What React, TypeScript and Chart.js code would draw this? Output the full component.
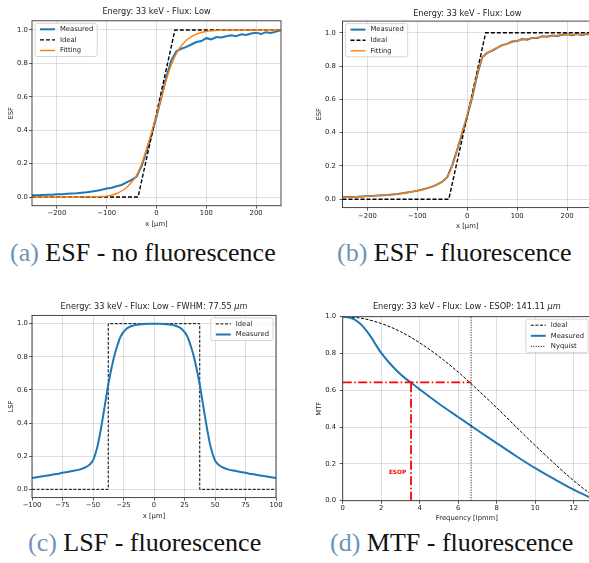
import React, { useEffect, useRef } from "react";
import { Chart, registerables } from "chart.js";
Chart.register(...registerables);

const FONT = '"DejaVu Sans", sans-serif';
const TEXT = "#222222";
const SPINE = "#333333";
const GRID = "rgba(0,0,0,0.16)";
const BLUE = "#1f77b4";
const ORANGE = "#ff7f0e";
const RED = "#ff0000";

// ---------------- ESF data (panels a, b) ----------------
const esfX = [
  -250, -240, -230, -220, -210, -200, -190, -180, -170, -160, -150, -140, -130, -120, -110,
  -100, -90, -80, -70, -60, -50, -40, -30, -20, -10, 0, 10, 20, 30, 40, 50, 60, 70, 80, 90,
  100, 110, 120, 130, 140, 150, 160, 170, 180, 190, 200, 210, 220, 230, 240, 250,
];
const esfMeasuredA = [
  0.010, 0.011, 0.012, 0.013, 0.014, 0.016, 0.017, 0.019, 0.021, 0.023, 0.026, 0.029, 0.033, 0.038, 0.044,
  0.051, 0.056, 0.064, 0.072, 0.087, 0.103, 0.122, 0.185, 0.275, 0.375, 0.48, 0.60, 0.72, 0.82, 0.872, 0.888, 0.899, 0.913, 0.928, 0.934,
  0.951, 0.944, 0.958, 0.955, 0.963, 0.968, 0.962, 0.974, 0.970, 0.979, 0.984, 0.976, 0.987, 0.982, 0.990, 0.998,
];
const esfFitA = [
  0, 0, 0, 0, 0, 0, 0, 0, 0, 0, 0.001, 0.001, 0.001, 0.002, 0.003,
  0.005, 0.011, 0.021, 0.036, 0.057, 0.088, 0.13, 0.198, 0.288, 0.385, 0.49, 0.598, 0.705, 0.793, 0.86, 0.906, 0.939, 0.96, 0.975, 0.985,
  0.991, 0.995, 0.997, 0.999, 1, 1, 1, 1, 1, 1, 1, 1, 1, 1, 1, 1,
];
const esfMeasuredB = [
  0.012, 0.013, 0.014, 0.015, 0.017, 0.019, 0.020, 0.022, 0.024, 0.026, 0.029, 0.032, 0.036, 0.041, 0.046,
  0.052, 0.059, 0.067, 0.076, 0.090, 0.106, 0.133, 0.205, 0.298, 0.40, 0.50, 0.612, 0.748, 0.853, 0.879, 0.893, 0.909, 0.926, 0.933, 0.947,
  0.950, 0.962, 0.958, 0.969, 0.968, 0.979, 0.976, 0.984, 0.981, 0.988, 0.991, 0.985, 0.993, 0.986, 0.992, 0.990,
];
const esfFitB = [
  0.011, 0.012, 0.013, 0.015, 0.016, 0.018, 0.020, 0.022, 0.024, 0.026, 0.028, 0.032, 0.036, 0.040, 0.045,
  0.050, 0.057, 0.066, 0.076, 0.089, 0.106, 0.135, 0.20, 0.30, 0.405, 0.505, 0.62, 0.75, 0.85, 0.878, 0.895, 0.91, 0.923, 0.934, 0.944,
  0.952, 0.958, 0.963, 0.968, 0.972, 0.976, 0.979, 0.982, 0.984, 0.986, 0.988, 0.989, 0.990, 0.991, 0.992, 0.993,
];
const esfIdealX = [-250, -37, 37, 250];
const esfIdealY = [0, 0, 1, 1];

// ---------------- LSF data (panel c) ----------------
const lsfX = [
  -100, -90, -80, -75, -70, -65, -60, -57, -54, -52, -50, -48, -46, -44, -42, -40, -38, -36, -34, -32, -30,
  -28, -26, -24, -22, -20, -17, -14, -10, -5, 0,
  5, 10, 14, 17, 20, 22, 24, 26, 28, 30, 32, 34, 36, 38, 40, 42, 44, 46, 48, 50, 52, 54, 57, 60, 65, 70, 75, 80, 90, 100,
];
const lsfMeasured = [
  0.068, 0.08, 0.092, 0.1, 0.106, 0.113, 0.122, 0.13, 0.142, 0.155, 0.175, 0.215, 0.27, 0.345, 0.43, 0.52, 0.61, 0.69, 0.76, 0.82, 0.868,
  0.912, 0.94, 0.958, 0.972, 0.981, 0.989, 0.994, 0.997, 0.999, 1.0,
  0.999, 0.997, 0.994, 0.989, 0.981, 0.972, 0.958, 0.94, 0.912, 0.868, 0.82, 0.76, 0.69, 0.61, 0.52, 0.43, 0.345, 0.27, 0.215, 0.175, 0.155, 0.142, 0.13, 0.122, 0.113, 0.106, 0.1, 0.092, 0.08, 0.068,
];
const lsfIdealX = [-100, -37.5, -37.5, 37.5, 37.5, 100];
const lsfIdealY = [0, 0, 1, 1, 0, 0];

// ---------------- MTF data (panel d) ----------------
const mtfMeasX = [0, 0.25, 0.5, 0.75, 1, 1.25, 1.5, 1.75, 2, 2.5, 3, 3.5, 4, 5, 6, 7, 8, 9, 10, 11, 12, 13];
const mtfMeasured = [1.0, 0.997, 0.99, 0.975, 0.953, 0.922, 0.885, 0.843, 0.803, 0.74, 0.687, 0.645, 0.605, 0.527, 0.455, 0.383, 0.313, 0.243, 0.177, 0.117, 0.06, 0.01];
const mtfIdealX = [0, 1, 2, 3, 4, 5, 6, 7, 8, 9, 10, 11, 12, 13, 13.33];
const mtfIdeal = [1.0, 0.991, 0.963, 0.919, 0.858, 0.784, 0.699, 0.604, 0.505, 0.402, 0.3, 0.202, 0.109, 0.026, 0.0];
const nyquistFreq = 6.67;
const esopFreq = 3.55;
const esopMtf = 0.643;
const esopLabelFreq = 2.85;
const esopLabelMtf = 0.155;

// ---------------- ticks ----------------
const esfXTicks = [-200, -100, 0, 100, 200];
const lsfXTicks = [-100, -75, -50, -25, 0, 25, 50, 75, 100];
const mtfXTicks = [0, 2, 4, 6, 8, 10, 12];
const unitYTicks = [0, 0.2, 0.4, 0.6, 0.8, 1.0];

const pts = (xs: number[], ys: number[]) => xs.map((x, i) => ({ x, y: ys[i] }));
const minusFmt = (v: number) => (v < 0 ? "\u2212" + Math.abs(v) : String(v));
const decFmt = (v: number) => Number(v).toFixed(1);

type LegendItem = { label: string; color: string; width: number; dash?: number[] };
type TitlePart = { text: string; italic?: boolean };
type Spec = {
  id: string;
  W: number; H: number; padTop: number; padRight: number;
  yWidth: number; xHeight: number;
  xMin: number; xMax: number; xTicks: number[]; xFmt: (v: number) => string; xTitle: string; xTitlePad: number; xTickPad: number;
  yMin: number; yMax: number; yTicks: number[]; yTitle: string; yTitlePad: number; yTickPad: number;
  title: TitlePart[]; titleY: number;
  legendCorner: "ul" | "ur"; legendItems: LegendItem[];
  datasets: any[];
  annotate?: (chart: any) => void;
};

function drawLegend(ctx: CanvasRenderingContext2D, a: any, corner: string, items: LegendItem[]) {
  const fs = 6.8;
  ctx.font = `${fs}px ${FONT}`;
  const tw = Math.max(...items.map((i) => ctx.measureText(i.label).width));
  const w = 25 + tw + 4;
  const row = 10.6;
  const h = 12 + (items.length - 1) * row;
  const x = corner === "ul" ? a.left + 3 : a.right - 3 - w;
  const y = a.top + 2.5;
  const r = 2;
  ctx.beginPath();
  ctx.moveTo(x + r, y);
  ctx.lineTo(x + w - r, y);
  ctx.quadraticCurveTo(x + w, y, x + w, y + r);
  ctx.lineTo(x + w, y + h - r);
  ctx.quadraticCurveTo(x + w, y + h, x + w - r, y + h);
  ctx.lineTo(x + r, y + h);
  ctx.quadraticCurveTo(x, y + h, x, y + h - r);
  ctx.lineTo(x, y + r);
  ctx.quadraticCurveTo(x, y, x + r, y);
  ctx.closePath();
  ctx.fillStyle = "rgba(255,255,255,0.8)";
  ctx.fill();
  ctx.setLineDash([]);
  ctx.strokeStyle = "#cccccc";
  ctx.lineWidth = 0.8;
  ctx.stroke();
  items.forEach((it, i) => {
    const cy = y + 6 + i * row;
    ctx.beginPath();
    ctx.setLineDash(it.dash || []);
    ctx.strokeStyle = it.color;
    ctx.lineWidth = it.width;
    ctx.moveTo(x + 5, cy);
    ctx.lineTo(x + 20, cy);
    ctx.stroke();
    ctx.setLineDash([]);
    ctx.fillStyle = TEXT;
    ctx.textAlign = "left";
    ctx.textBaseline = "middle";
    ctx.font = `${fs}px ${FONT}`;
    ctx.fillText(it.label, x + 25, cy);
  });
}

function drawTitle(ctx: CanvasRenderingContext2D, a: any, parts: TitlePart[], y: number) {
  const size = 8.2;
  const fontOf = (p: TitlePart) => `${p.italic ? "italic " : ""}${size}px ${FONT}`;
  let total = 0;
  const widths = parts.map((p) => {
    ctx.font = fontOf(p);
    const w = ctx.measureText(p.text).width;
    total += w;
    return w;
  });
  let x = (a.left + a.right) / 2 - total / 2;
  ctx.fillStyle = TEXT;
  ctx.textBaseline = "middle";
  ctx.textAlign = "left";
  parts.forEach((p, i) => {
    ctx.font = fontOf(p);
    ctx.fillText(p.text, x, y);
    x += widths[i];
  });
}

function makeDecor(spec: Spec) {
  return {
    id: "decor_" + spec.id,
    afterDatasetsDraw(chart: any) {
      if (spec.annotate) spec.annotate(chart);
    },
    afterDraw(chart: any) {
      const { ctx, chartArea: a } = chart;
      ctx.save();
      ctx.setLineDash([]);
      ctx.strokeStyle = SPINE;
      ctx.lineWidth = 0.9;
      ctx.strokeRect(a.left, a.top, a.right - a.left, a.bottom - a.top);
      drawLegend(ctx, a, spec.legendCorner, spec.legendItems);
      drawTitle(ctx, a, spec.title, spec.titleY);
      ctx.restore();
    },
  };
}

function makeConfig(spec: Spec): any {
  const tickFont = { size: 6.8, family: FONT };
  const gridOpts = { color: GRID, lineWidth: 0.8, drawTicks: true, tickLength: 3, tickColor: SPINE, tickWidth: 0.8 };
  return {
    type: "line",
    data: { datasets: spec.datasets },
    options: {
      responsive: false,
      maintainAspectRatio: false,
      animation: false,
      events: [],
      layout: { padding: { top: spec.padTop, right: spec.padRight, left: 0, bottom: 0 } },
      plugins: { legend: { display: false }, tooltip: { enabled: false }, title: { display: false } },
      scales: {
        x: {
          type: "linear",
          min: spec.xMin,
          max: spec.xMax,
          afterBuildTicks: (s: any) => { s.ticks = spec.xTicks.map((v) => ({ value: v })); },
          afterFit: (s: any) => { s.height = spec.xHeight; },
          ticks: { callback: (v: any) => spec.xFmt(Number(v)), padding: spec.xTickPad, color: TEXT, font: tickFont, maxRotation: 0, autoSkip: false },
          grid: gridOpts,
          border: { display: false },
          title: { display: true, text: spec.xTitle, color: TEXT, font: tickFont, padding: { top: 0, bottom: spec.xTitlePad } },
        },
        y: {
          type: "linear",
          min: spec.yMin,
          max: spec.yMax,
          afterBuildTicks: (s: any) => { s.ticks = spec.yTicks.map((v) => ({ value: v })); },
          afterFit: (s: any) => { s.width = spec.yWidth; },
          ticks: { callback: (v: any) => decFmt(Number(v)), padding: spec.yTickPad, color: TEXT, font: tickFont, autoSkip: false },
          grid: gridOpts,
          border: { display: false },
          title: { display: true, text: spec.yTitle, color: TEXT, font: tickFont, padding: { top: spec.yTitlePad, bottom: 0 } },
        },
      },
    },
    plugins: [makeDecor(spec)],
  };
}

const line = (data: any[], color: string, width: number, extra: any = {}) => ({
  data,
  borderColor: color,
  backgroundColor: color,
  borderWidth: width,
  pointRadius: 0,
  pointHoverRadius: 0,
  fill: false,
  tension: 0,
  ...extra,
});

const esfLegend: LegendItem[] = [
  { label: "Measured", color: BLUE, width: 2 },
  { label: "Ideal", color: "#000", width: 1.4, dash: [4, 2] },
  { label: "Fitting", color: ORANGE, width: 1.4 },
];

const specA: Spec = {
  id: "a", W: 295, H: 232, padTop: 20.8, padRight: 14, yWidth: 32, xHeight: 26.3,
  xMin: -250, xMax: 250, xTicks: esfXTicks, xFmt: minusFmt, xTitle: "x [\u00b5m]", xTitlePad: 3.9, xTickPad: 0.5,
  yMin: -0.052, yMax: 1.055, yTicks: unitYTicks, yTitle: "ESF", yTitlePad: 7.6, yTickPad: 1.3,
  title: [{ text: "Energy: 33 keV - Flux: Low" }], titleY: 12,
  legendCorner: "ul", legendItems: esfLegend,
  datasets: [
    line(pts(esfX, esfMeasuredA), BLUE, 2, { order: 3 }),
    line(pts(esfIdealX, esfIdealY), "#000", 1.4, { borderDash: [4, 2], order: 2 }),
    line(pts(esfX, esfFitA), ORANGE, 1.4, { cubicInterpolationMode: "monotone", order: 1 }),
  ],
};

const specB: Spec = {
  id: "b", W: 310, H: 232, padTop: 21.1, padRight: 13, yWidth: 47.5, xHeight: 24.4,
  xMin: -250, xMax: 250, xTicks: esfXTicks, xFmt: minusFmt, xTitle: "x [\u00b5m]", xTitlePad: 1.2, xTickPad: 1.3,
  yMin: -0.05, yMax: 1.07, yTicks: unitYTicks, yTitle: "ESF", yTitlePad: 20.2, yTickPad: 3.7,
  title: [{ text: "Energy: 33 keV - Flux: Low" }], titleY: 14,
  legendCorner: "ul", legendItems: esfLegend,
  datasets: [
    line(pts(esfX, esfMeasuredB), BLUE, 2, { order: 3 }),
    line(pts(esfIdealX, esfIdealY), "#000", 1.4, { borderDash: [4, 2], order: 2 }),
    line(pts(esfX, esfFitB), ORANGE, 1.4, { cubicInterpolationMode: "monotone", order: 1 }),
  ],
};

const specC: Spec = {
  id: "c", W: 295, H: 235, padTop: 25.4, padRight: 19, yWidth: 32, xHeight: 27.4,
  xMin: -100, xMax: 100, xTicks: lsfXTicks, xFmt: minusFmt, xTitle: "x [\u00b5m]", xTitlePad: 4.2, xTickPad: 1.0,
  yMin: -0.05, yMax: 1.05, yTicks: unitYTicks, yTitle: "LSF", yTitlePad: 7.6, yTickPad: 1.3,
  title: [{ text: "Energy: 33 keV - Flux: Low - FWHM: 77.55 " }, { text: "\u03bcm", italic: true }], titleY: 17.3,
  legendCorner: "ur",
  legendItems: [
    { label: "Ideal", color: "#000", width: 1, dash: [3, 1.6] },
    { label: "Measured", color: BLUE, width: 2 },
  ],
  datasets: [
    line(pts(lsfIdealX, lsfIdealY), "#000", 1, { borderDash: [3, 1.6], order: 2 }),
    line(pts(lsfX, lsfMeasured), BLUE, 2, { cubicInterpolationMode: "monotone", order: 1 }),
  ],
};

const specD: Spec = {
  id: "d", W: 320, H: 235, padTop: 26.7, padRight: 24, yWidth: 47.7, xHeight: 24.3,
  xMin: 0, xMax: 12.9, xTicks: mtfXTicks, xFmt: minusFmt, xTitle: "Frequency [lpmm]", xTitlePad: 2.6, xTickPad: 0.5,
  yMin: 0, yMax: 1, yTicks: unitYTicks, yTitle: "MTF", yTitlePad: 20.2, yTickPad: 3.7,
  title: [{ text: "Energy: 33 keV - Flux: Low - ESOP: 141.11 " }, { text: "\u03bcm", italic: true }], titleY: 16.7,
  legendCorner: "ur",
  legendItems: [
    { label: "Ideal", color: "#000", width: 1, dash: [3, 1.6] },
    { label: "Measured", color: BLUE, width: 2 },
    { label: "Nyquist", color: "#000", width: 1, dash: [1, 1.5] },
  ],
  datasets: [
    line(pts(mtfIdealX, mtfIdeal), "#000", 1, { borderDash: [3, 1.6], cubicInterpolationMode: "monotone", order: 5 }),
    line(pts(mtfMeasX, mtfMeasured), BLUE, 2, { cubicInterpolationMode: "monotone", order: 4 }),
    line(pts([nyquistFreq, nyquistFreq], [0, 1]), "#000", 1, { borderDash: [1, 1.5], order: 3 }),
    line(pts([0, nyquistFreq], [esopMtf, esopMtf]), RED, 1.8, { borderDash: [9, 2.5, 1.5, 2.5], order: 2 }),
    line(pts([esopFreq, esopFreq], [0, esopMtf]), RED, 1.8, { borderDash: [9, 2.5, 1.5, 2.5], order: 1 }),
  ],
  annotate: (chart: any) => {
    const { ctx, scales } = chart;
    ctx.save();
    ctx.fillStyle = RED;
    ctx.font = `bold 5.8px ${FONT}`;
    ctx.textAlign = "center";
    ctx.textBaseline = "middle";
    ctx.fillText("ESOP", scales.x.getPixelForValue(esopLabelFreq), scales.y.getPixelForValue(esopLabelMtf));
    ctx.restore();
  },
};

function ChartPanel({ spec, left, top }: { spec: Spec; left: number; top: number }) {
  const ref = useRef<HTMLCanvasElement>(null);
  useEffect(() => {
    const chart = new Chart(ref.current as HTMLCanvasElement, makeConfig(spec));
    return () => chart.destroy();
  }, []);
  return (
    <div style={{ position: "absolute", left, top, width: spec.W, height: spec.H }}>
      <canvas ref={ref} width={spec.W} height={spec.H} style={{ display: "block", width: spec.W, height: spec.H }} />
    </div>
  );
}

function Caption({ tag, text, left, top }: { tag: string; text: string; left: number; top: number }) {
  return (
    <div
      style={{
        position: "absolute",
        left,
        top,
        fontFamily: '"Liberation Serif", serif',
        fontSize: 26,
        lineHeight: "26px",
        whiteSpace: "nowrap",
        color: "#111",
      }}
    >
      <span style={{ color: "#6f94b8" }}>{tag}</span> {text}
    </div>
  );
}

export default function App() {
  return (
    <div style={{ position: "absolute", left: 0, top: 0, width: 589, height: 563, overflow: "hidden", background: "#fff" }}>
      <ChartPanel spec={specA} left={0} top={0} />
      <ChartPanel spec={specB} left={295} top={0} />
      <ChartPanel spec={specC} left={0} top={290} />
      <ChartPanel spec={specD} left={295} top={290} />
      <Caption tag="(a)" text="ESF - no fluorescence" left={10} top={240} />
      <Caption tag="(b)" text="ESF - fluorescence" left={337} top={240} />
      <Caption tag="(c)" text="LSF - fluorescence" left={28} top={530} />
      <Caption tag="(d)" text="MTF - fluorescence" left={330} top={530} />
    </div>
  );
}
